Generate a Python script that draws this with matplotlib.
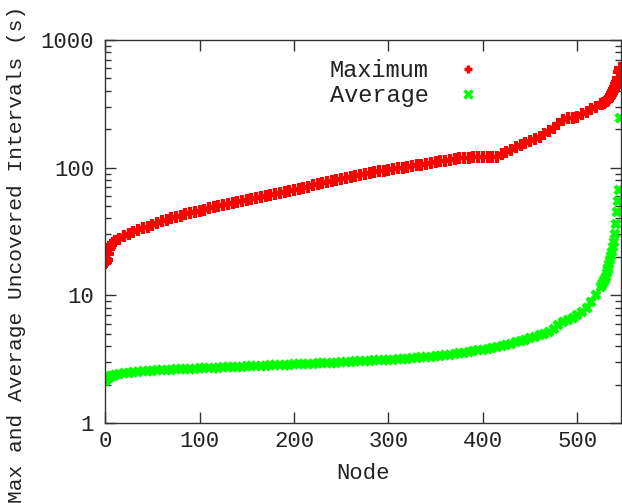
import matplotlib
matplotlib.use("Agg")
import matplotlib.pyplot as plt
from matplotlib.ticker import LogLocator, FixedLocator, NullFormatter

# Node indices at which the sorted interval statistics are plotted
nodes = ([0, 1, 2, 3, 4, 5, 6, 8, 10]
         + list(range(15, 526, 5))
         + list(range(526, 546)))

# Maximum uncovered interval per node (seconds), sorted ascending
max_interval = [
    18.0, 18.3, 19.0, 21.0, 23.0, 24.0, 25.0, 25.8, 26.5,
    27.8, 29.0, 30.2, 31.4, 32.4, 33.5, 34.6, 35.8, 36.9, 38.0,
    39.0, 40.0, 41.0, 42.0, 43.0, 44.0, 45.0, 46.0, 47.0, 48.0,
    49.0, 50.0, 51.0, 52.0, 53.0, 54.0, 55.0, 56.0, 57.0, 58.0,
    59.0, 60.0, 61.0, 62.2, 63.4, 64.6, 65.8, 67.0, 68.4, 69.8,
    71.2, 72.6, 74.0, 75.6, 77.2, 78.8, 80.4, 82.0, 83.6, 85.2,
    86.8, 88.4, 90.0, 91.2, 92.4, 93.6, 94.8, 96.0, 97.4, 98.8,
    100.2, 101.6, 103.0, 104.4, 105.8, 107.2, 108.6, 110.0, 111.8, 113.5,
    115.2, 117.0, 118.0, 119.0, 120.0, 120.5, 120.8, 121.0, 121.2, 121.5,
    122.0, 127.0, 132.0, 138.0, 144.0, 150.0, 156.0, 162.0, 168.0, 175.0,
    183.0, 193.0, 205.0, 220.0, 238.0, 245.0, 247.0, 250.0, 262.0, 275.0,
    286.0, 298.0, 313.0,
    316.0, 319.0, 322.0, 326.0, 330.0, 335.0, 340.0, 345.0, 350.0, 355.0,
    368.0, 385.0, 400.0, 415.0, 430.0, 450.0, 470.0, 500.0, 560.0, 600.0,
]

# Average uncovered interval per node (seconds), sorted ascending
avg_interval = [
    2.15, 2.18, 2.22, 2.26, 2.28, 2.30, 2.32, 2.35, 2.38,
    2.42, 2.45, 2.48, 2.50, 2.52, 2.54, 2.56, 2.57, 2.585, 2.60,
    2.61, 2.62, 2.63, 2.64, 2.65, 2.66, 2.67, 2.68, 2.69, 2.70,
    2.71, 2.72, 2.73, 2.74, 2.75, 2.76, 2.77, 2.78, 2.79, 2.80,
    2.81, 2.82, 2.83, 2.84, 2.85, 2.86, 2.87, 2.88, 2.89, 2.90,
    2.91, 2.92, 2.93, 2.94, 2.95, 2.96, 2.97, 2.98, 3.00, 3.02,
    3.04, 3.06, 3.07, 3.08, 3.09, 3.10, 3.11, 3.12, 3.14, 3.16,
    3.18, 3.20, 3.22, 3.24, 3.26, 3.28, 3.30, 3.32, 3.36, 3.40,
    3.44, 3.48, 3.52, 3.56, 3.60, 3.65, 3.70, 3.75, 3.81, 3.87,
    3.93, 4.00, 4.09, 4.18, 4.28, 4.38, 4.49, 4.60, 4.73, 4.86,
    5.00, 5.20, 5.45, 5.90, 6.15, 6.40, 6.70, 7.00, 7.45, 8.00,
    8.80, 10.0, 11.6,
    12.0, 12.4, 12.9, 13.4, 14.0, 15.0, 15.8, 16.5, 17.6, 19.0,
    20.5, 22.0, 24.0, 26.0, 30.0, 36.0, 45.0, 55.0, 67.0, 245.0,
]

x_ticks = [0, 100, 200, 300, 400, 500]
y_ticks = [1, 10, 100, 1000]
y_tick_labels = ["1", "10", "100", "1000"]

font = ["Liberation Mono", "DejaVu Sans Mono"]
plt.rcParams["font.family"] = font
text_color = "#222222"

fig = plt.figure(figsize=(6.22, 5.03), dpi=100)
ax = fig.add_axes([0.169, 0.159, 0.829, 0.7615])

ax.plot(nodes, max_interval, linestyle="none", marker="+", markersize=8,
        markeredgewidth=3.0, color="#ff0000", label="Maximum")
ax.plot(nodes, avg_interval, linestyle="none", marker="x", markersize=6,
        markeredgewidth=3.2, color="#00ff00", label="Average")

ax.set_yscale("log")
ax.set_xlim(0, 546)
ax.set_ylim(1, 1000)

ax.xaxis.set_major_locator(FixedLocator(x_ticks))
ax.set_xticklabels([str(t) for t in x_ticks])
ax.yaxis.set_major_locator(FixedLocator(y_ticks))
ax.set_yticklabels(y_tick_labels)
ax.yaxis.set_minor_locator(LogLocator(base=10, subs=range(2, 10)))
ax.yaxis.set_minor_formatter(NullFormatter())

ax.tick_params(axis="both", which="major", direction="in", length=8,
               width=1, top=True, right=True, labelsize=16,
               colors="#333333", labelcolor=text_color)
ax.tick_params(axis="y", which="minor", direction="in", length=4,
               width=1, right=True, colors="#333333")
ax.tick_params(axis="y", which="major", pad=8)
ax.tick_params(axis="x", which="major", pad=6)

for spine in ax.spines.values():
    spine.set_color("#333333")
    spine.set_linewidth(1)

ax.set_xlabel("Node", fontsize=16, color=text_color, labelpad=8)
fig.text(0.026, 0.495, "Max and Average Uncovered Intervals (s)",
         rotation=90, fontsize=15.3, color=text_color,
         ha="center", va="center")

leg = ax.legend(loc="upper left", bbox_to_anchor=(0.436, 0.95),
                frameon=False, markerfirst=False, fontsize=17,
                borderpad=0, borderaxespad=0,
                handletextpad=1.15, labelspacing=0.08, handlelength=1.0)
for t in leg.get_texts():
    t.set_color(text_color)
for h in leg.legend_handles:
    h.set_markersize(6)
    h.set_markeredgewidth(2.5)

fig.savefig("out.png", dpi=100)
